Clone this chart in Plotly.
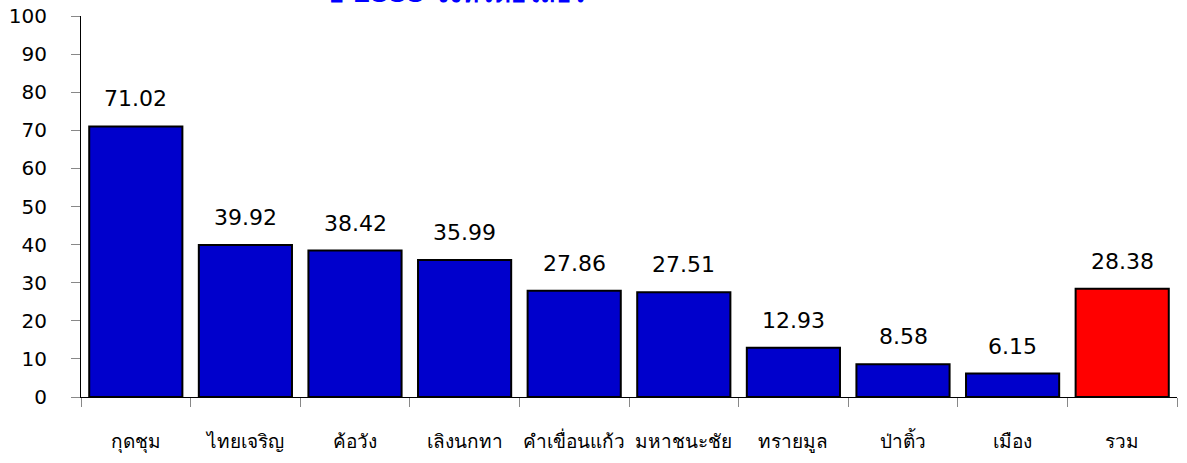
import plotly.graph_objects as go

districts = ["กุดชุม", "ไทยเจริญ", "ค้อวัง", "เลิงนกทา", "คำเขื่อนแก้ว",
             "มหาชนะชัย", "ทรายมูล", "ป่าติ้ว", "เมือง", "รวม"]
rates = [71.02, 39.92, 38.42, 35.99, 27.86, 27.51, 12.93, 8.58, 6.15, 28.38]
y_ticks = [0, 10, 20, 30, 40, 50, 60, 70, 80, 90, 100]
title_text = "ปี 2555 จังหวัดยโสธร"

FONT = "Tahoma, 'DejaVu Sans', 'Noto Sans', sans-serif"
colors = ["#0000CC"] * (len(districts) - 1) + ["#FF0000"]

fig = go.Figure()
fig.add_bar(
    x=districts, y=rates,
    marker=dict(color=colors, line=dict(color="black", width=2)),
    showlegend=False, hoverinfo="skip",
)

# value labels sit a bit higher above the bars than plotly's "outside" text
for d, v in zip(districts, rates):
    fig.add_annotation(x=d, y=v, text=f"{v:.2f}", showarrow=False,
                       yanchor="bottom", yshift=13,
                       font=dict(size=22, color="black", family=FONT))

# title is mostly cut off by the top edge of the picture (as in the source)
fig.add_annotation(xref="paper", yref="paper", x=0.222, y=1.015,
                   xanchor="left", yanchor="bottom", showarrow=False,
                   text=f"<b>{title_text}</b>",
                   font=dict(size=26, color="#0000FF", family=FONT))

fig.update_layout(
    width=1187, height=463,
    margin=dict(l=81, r=10, t=16, b=66, autoexpand=False),
    paper_bgcolor="white", plot_bgcolor="white",
    bargap=0.15,
    font=dict(family=FONT, size=20, color="black"),
)
fig.update_yaxes(
    range=[0, 100], tickvals=y_ticks, showgrid=False, zeroline=False,
    showline=True, linecolor="black", linewidth=1, automargin=False,
    ticks="outside", ticklen=9, tickcolor="#888888", tickwidth=1,
    ticklabelstandoff=20, ticklabeloverflow="allow",
    tickfont=dict(size=20, family=FONT),
)
fig.update_xaxes(
    showgrid=False, showline=True, linecolor="black", linewidth=1,
    automargin=False, tickangle=0,
    ticks="outside", tickson="boundaries", ticklen=9,
    tickcolor="#888888", tickwidth=1,
    ticklabelstandoff=27,
    tickfont=dict(size=19, family=FONT),
)

# drop the page's default 8px body margin so the figure fills the window
fig.write_html("out.html", config={"displayModeBar": False},
               post_script="document.body.style.margin='0';")
